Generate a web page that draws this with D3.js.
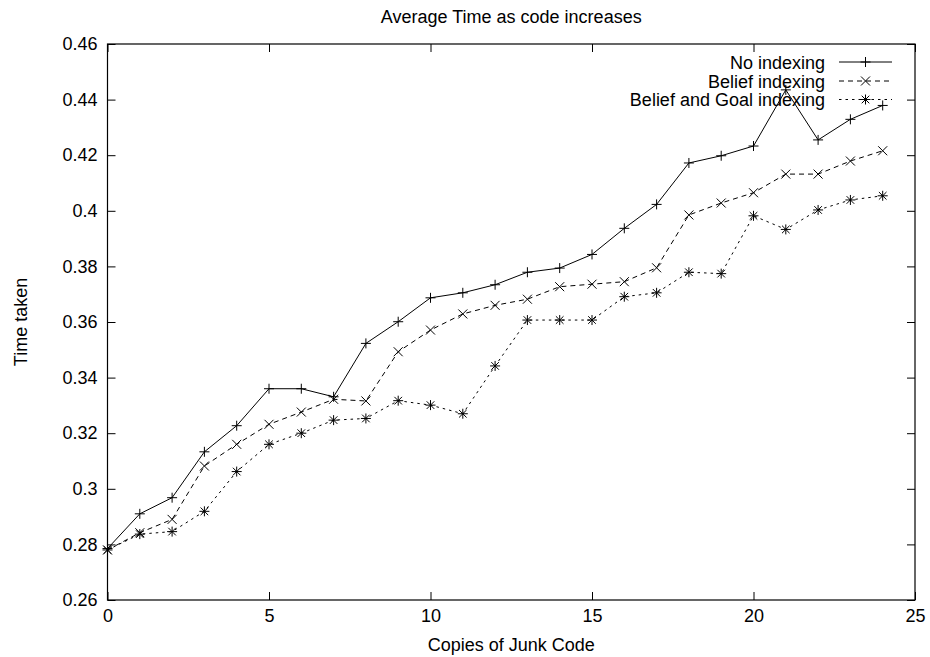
<!DOCTYPE html>
<html><head><meta charset="utf-8">
<script src="https://cdn.jsdelivr.net/npm/d3@7"></script>
<style>body{margin:0;background:#fff}svg{display:block}text{font-family:"Liberation Sans",Arial,Helvetica,sans-serif;fill:#000}</style>
</head><body>
<svg id="c" width="930" height="657"></svg>
<script>
const copies = [0,1,2,3,4,5,6,7,8,9,10,11,12,13,14,15,16,17,18,19,20,21,22,23,24];
const noIndexing = [0.2785,0.2910,0.2968,0.3133,0.3227,0.3360,0.3360,0.3331,0.3523,0.3601,0.3687,0.3705,0.3734,0.3779,0.3794,0.3843,0.3937,0.4023,0.4172,0.4198,0.4233,0.4435,0.4255,0.4329,0.4379];
const beliefIndexing = [0.2780,0.2842,0.2890,0.3082,0.3160,0.3232,0.3276,0.3322,0.3316,0.3493,0.3571,0.3629,0.3660,0.3682,0.3727,0.3736,0.3745,0.3795,0.3985,0.4028,0.4065,0.4132,0.4132,0.4179,0.4216];
const beliefGoalIndexing = [0.2780,0.2837,0.2846,0.2919,0.3062,0.3160,0.3200,0.3247,0.3253,0.3317,0.3301,0.3270,0.3442,0.3607,0.3607,0.3607,0.3691,0.3705,0.3779,0.3774,0.3982,0.3933,0.4003,0.4039,0.4054];
const seriesNames = ["No indexing","Belief indexing","Belief and Goal indexing"];
const xTicks = [0,5,10,15,20,25];
const yTicks = [0.26,0.28,0.30,0.32,0.34,0.36,0.38,0.40,0.42,0.44,0.46];

const svg = d3.select("#c");
const L=107.5, R=915, T=44, B=600;
const x = d3.scaleLinear().domain([0,25]).range([L,R]);
const y = d3.scaleLinear().domain([0.26,0.46]).range([B,T]);
const fs = 18;

const styles = [
  {dash:null, sym:"M-5,0H5M0,-5V5"},
  {dash:"5,4", sym:"M-4.5,-4.5L4.5,4.5M-4.5,4.5L4.5,-4.5"},
  {dash:"2.5,4", sym:"M-5,0H5M0,-5V5M-3.8,-3.8L3.8,3.8M-3.8,3.8L3.8,-3.8"}
];
const data = [noIndexing, beliefIndexing, beliefGoalIndexing];

// axes (inward ticks, mirrored)
const fmt = d => String(+d.toFixed(2));
const gx = svg.append("g").attr("transform",`translate(0,${B})`)
  .call(d3.axisBottom(x).tickValues(xTicks).tickSize(-8).tickPadding(9).tickFormat(d3.format("d")));
const gxt = svg.append("g").attr("transform",`translate(0,${T})`)
  .call(d3.axisTop(x).tickValues(xTicks).tickSize(-8).tickFormat(""));
const gy = svg.append("g").attr("transform",`translate(${L},0)`)
  .call(d3.axisLeft(y).tickValues(yTicks).tickSize(-8).tickPadding(10).tickFormat(fmt));
const gyr = svg.append("g").attr("transform",`translate(${R},0)`)
  .call(d3.axisRight(y).tickValues(yTicks).tickSize(-8).tickFormat(""));
[gx,gxt,gy,gyr].forEach(g=>{
  g.select(".domain").remove();
  g.selectAll(".tick line").attr("stroke","#000").attr("stroke-width",1);
  g.selectAll("text").style("font-size",fs+"px").style("font-family",'"Liberation Sans",Arial,sans-serif').attr("fill","#000");
});
svg.append("rect").attr("x",L).attr("y",T).attr("width",R-L).attr("height",B-T)
  .attr("fill","none").attr("stroke","#000").attr("stroke-width",1.2);

// series
const line = d3.line().x((d,i)=>x(copies[i])).y(d=>y(d));
data.forEach((vals,k)=>{
  const st = styles[k];
  svg.append("path").attr("d",line(vals)).attr("fill","none").attr("stroke","#000")
    .attr("stroke-width",1).attr("stroke-dasharray",st.dash);
  svg.append("g").selectAll("path").data(vals).join("path")
    .attr("transform",(d,i)=>`translate(${x(copies[i])},${y(d)})`)
    .attr("d",st.sym).attr("stroke","#000").attr("stroke-width",1).attr("fill","none");
});

// legend
const legY = [62,81,99.5];
seriesNames.forEach((n,k)=>{
  const st = styles[k];
  svg.append("text").attr("x",825).attr("y",legY[k]+6.5).attr("text-anchor","end")
    .style("font-size",fs+"px").text(n);
  svg.append("line").attr("x1",839).attr("x2",892).attr("y1",legY[k]).attr("y2",legY[k])
    .attr("stroke","#000").attr("stroke-width",1).attr("stroke-dasharray",st.dash);
  svg.append("path").attr("transform",`translate(865.5,${legY[k]})`).attr("d",st.sym)
    .attr("stroke","#000").attr("stroke-width",1).attr("fill","none");
});

// titles
svg.append("text").attr("x",(L+R)/2).attr("y",23).attr("text-anchor","middle").style("font-size",fs+"px")
  .text("Average Time as code increases");
svg.append("text").attr("x",(L+R)/2).attr("y",651).attr("text-anchor","middle").style("font-size",fs+"px")
  .text("Copies of Junk Code");
svg.append("text").attr("transform",`translate(27,${(T+B)/2}) rotate(-90)`).attr("text-anchor","middle")
  .style("font-size",fs+"px").text("Time taken");
</script>
</body></html>
